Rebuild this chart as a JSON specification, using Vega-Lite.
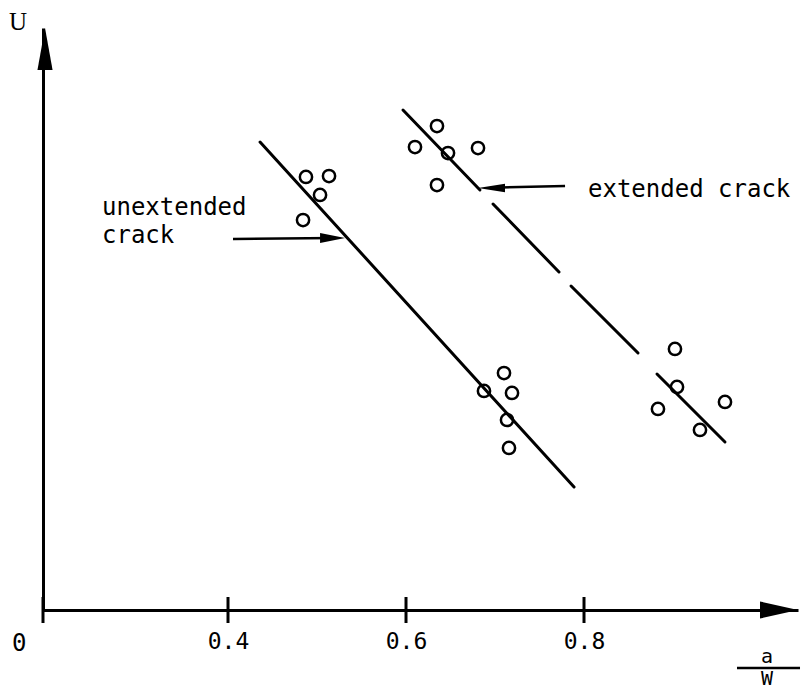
{
  "$schema": "https://vega.github.io/schema/vega-lite/v6.json",
  "width": 755,
  "height": 582,
  "autosize": {"type": "none"},
  "padding": {"left": 43, "top": 28, "right": 4, "bottom": 79},
  "background": "white",
  "config": {"view": {"stroke": null}, "axis": {"grid": false}},
  "datasets": {
    "fits": [
      {"series": "unextended", "x": 0.4360, "u": 8.041, "x2": 0.7888, "u2": 2.113},
      {"series": "extended", "x": 0.5966, "u": 8.591, "x2": 0.6831, "u2": 7.216},
      {"series": "extended", "x": 0.6978, "u": 6.976, "x2": 0.7719, "u2": 5.808},
      {"series": "extended", "x": 0.7854, "u": 5.567, "x2": 0.8607, "u2": 4.416},
      {"series": "extended", "x": 0.8820, "u": 4.055, "x2": 0.9584, "u2": 2.887}
    ],
    "points": [
      {"series": "unextended", "x": 0.4876, "u": 7.440},
      {"series": "unextended", "x": 0.5135, "u": 7.457},
      {"series": "unextended", "x": 0.5034, "u": 7.131},
      {"series": "unextended", "x": 0.4843, "u": 6.701},
      {"series": "unextended", "x": 0.7101, "u": 4.072},
      {"series": "unextended", "x": 0.7191, "u": 3.729},
      {"series": "unextended", "x": 0.6876, "u": 3.763},
      {"series": "unextended", "x": 0.7135, "u": 3.265},
      {"series": "unextended", "x": 0.7157, "u": 2.784},
      {"series": "extended", "x": 0.6348, "u": 8.316},
      {"series": "extended", "x": 0.6101, "u": 7.955},
      {"series": "extended", "x": 0.6472, "u": 7.852},
      {"series": "extended", "x": 0.6809, "u": 7.938},
      {"series": "extended", "x": 0.6348, "u": 7.302},
      {"series": "extended", "x": 0.9022, "u": 4.485},
      {"series": "extended", "x": 0.9045, "u": 3.832},
      {"series": "extended", "x": 0.8831, "u": 3.454},
      {"series": "extended", "x": 0.9584, "u": 3.574},
      {"series": "extended", "x": 0.9303, "u": 3.093}
    ],
    "shafts": [
      {"name": "unextended arrow", "x": 0.4056, "u": 6.375, "x2": 0.5200, "u2": 6.390},
      {"name": "extended arrow", "x": 0.6950, "u": 7.255, "x2": 0.7787, "u2": 7.285},
      {"name": "fraction bar", "x": 0.9719, "u": -0.997, "x2": 1.0427, "u2": -0.997}
    ],
    "heads": [
      {"kind": "right", "x": 0.5315, "u": 6.392},
      {"kind": "left", "x": 0.6809, "u": 7.251},
      {"kind": "xaxis", "x": 1.04044, "u": 0},
      {"kind": "yaxis", "x": 0.1944, "u": 10}
    ],
    "ticks": [{"x": 0.19213}, {"x": 0.4}, {"x": 0.6}, {"x": 0.8}],
    "labels": [
      {"text": "unextended", "x": 0.2584, "u": 6.787},
      {"text": "crack", "x": 0.2584, "u": 6.306},
      {"text": "extended crack", "x": 0.8045, "u": 7.096},
      {"text": "0", "x": 0.1573, "u": -0.704}
    ],
    "frac": [
      {"text": "a", "x": 1.0056, "u": -0.911},
      {"text": "W", "x": 1.0056, "u": -1.285}
    ],
    "ylab": [{"text": "U", "x": 0.1640, "u": 9.966}]
  },
  "layer": [
    {
      "data": {"name": "fits"},
      "mark": {"type": "rule", "strokeWidth": 3, "color": "black", "strokeCap": "round"},
      "encoding": {
        "x": {
          "field": "x", "type": "quantitative", "title": null,
          "scale": {"domain": [0.19213, 1.04044], "nice": false, "zero": false},
          "axis": {"values": [0.4, 0.6, 0.8], "format": ".1f", "title": null, "domainColor": "black", "domainWidth": 3, "ticks": false, "labelFont": "DejaVu Sans Mono", "labelFontSize": 23, "labelColor": "black", "labelPadding": 20}
        },
        "y": {
          "field": "u", "type": "quantitative", "title": null,
          "scale": {"domain": [0, 10], "nice": false, "zero": false},
          "axis": {"title": null, "labels": false, "ticks": false, "domainColor": "black", "domainWidth": 3}
        },
        "x2": {"field": "x2"},
        "y2": {"field": "u2"}
      }
    },
    {
      "data": {"name": "ticks"},
      "mark": {"type": "tick", "orient": "vertical", "size": 26, "thickness": 3, "color": "black", "opacity": 1},
      "encoding": {
        "x": {"field": "x", "type": "quantitative", "title": null},
        "y": {"datum": 0}
      }
    },
    {
      "data": {"name": "points"},
      "mark": {"type": "point", "shape": "circle", "size": 150, "strokeWidth": 2.5, "color": "black", "filled": false, "opacity": 1},
      "encoding": {
        "x": {"field": "x", "type": "quantitative", "title": null},
        "y": {"field": "u", "type": "quantitative", "title": null}
      }
    },
    {
      "data": {"name": "shafts"},
      "mark": {"type": "rule", "strokeWidth": 2.5, "color": "black"},
      "encoding": {
        "x": {"field": "x", "type": "quantitative", "title": null},
        "y": {"field": "u", "type": "quantitative", "title": null},
        "x2": {"field": "x2"},
        "y2": {"field": "u2"}
      }
    },
    {
      "data": {"name": "heads"},
      "transform": [{"filter": "datum.kind == 'right'"}],
      "mark": {"type": "point", "shape": "M0,0L-2,-0.4L-2,0.4Z", "size": 625, "filled": true, "color": "black", "opacity": 1, "strokeWidth": 0},
      "encoding": {
        "x": {"field": "x", "type": "quantitative", "title": null},
        "y": {"field": "u", "type": "quantitative", "title": null}
      }
    },
    {
      "data": {"name": "heads"},
      "transform": [{"filter": "datum.kind == 'left'"}],
      "mark": {"type": "point", "shape": "M0,0L2,-0.32L2,0.32Z", "size": 729, "filled": true, "color": "black", "opacity": 1, "strokeWidth": 0},
      "encoding": {
        "x": {"field": "x", "type": "quantitative", "title": null},
        "y": {"field": "u", "type": "quantitative", "title": null}
      }
    },
    {
      "data": {"name": "heads"},
      "transform": [{"filter": "datum.kind == 'xaxis'"}],
      "mark": {"type": "point", "shape": "M0,0L-2,-0.45L-2,0.45Z", "size": 1444, "filled": true, "color": "black", "opacity": 1, "strokeWidth": 0},
      "encoding": {
        "x": {"field": "x", "type": "quantitative", "title": null},
        "y": {"field": "u", "type": "quantitative", "title": null}
      }
    },
    {
      "data": {"name": "heads"},
      "transform": [{"filter": "datum.kind == 'yaxis'"}],
      "mark": {"type": "point", "shape": "M0,0L-0.36,2L0.36,2Z", "size": 1764, "filled": true, "color": "black", "opacity": 1, "strokeWidth": 0},
      "encoding": {
        "x": {"field": "x", "type": "quantitative", "title": null},
        "y": {"field": "u", "type": "quantitative", "title": null}
      }
    },
    {
      "data": {"name": "labels"},
      "mark": {"type": "text", "font": "DejaVu Sans Mono", "fontSize": 24, "align": "left", "baseline": "alphabetic", "color": "black"},
      "encoding": {
        "x": {"field": "x", "type": "quantitative", "title": null},
        "y": {"field": "u", "type": "quantitative", "title": null},
        "text": {"field": "text"}
      }
    },
    {
      "data": {"name": "frac"},
      "mark": {"type": "text", "font": "DejaVu Sans Mono", "fontSize": 20, "align": "center", "baseline": "alphabetic", "color": "black"},
      "encoding": {
        "x": {"field": "x", "type": "quantitative", "title": null},
        "y": {"field": "u", "type": "quantitative", "title": null},
        "text": {"field": "text"}
      }
    },
    {
      "data": {"name": "ylab"},
      "mark": {"type": "text", "font": "Liberation Serif", "fontSize": 25, "align": "center", "baseline": "alphabetic", "color": "black"},
      "encoding": {
        "x": {"field": "x", "type": "quantitative", "title": null},
        "y": {"field": "u", "type": "quantitative", "title": null},
        "text": {"field": "text"}
      }
    }
  ]
}
